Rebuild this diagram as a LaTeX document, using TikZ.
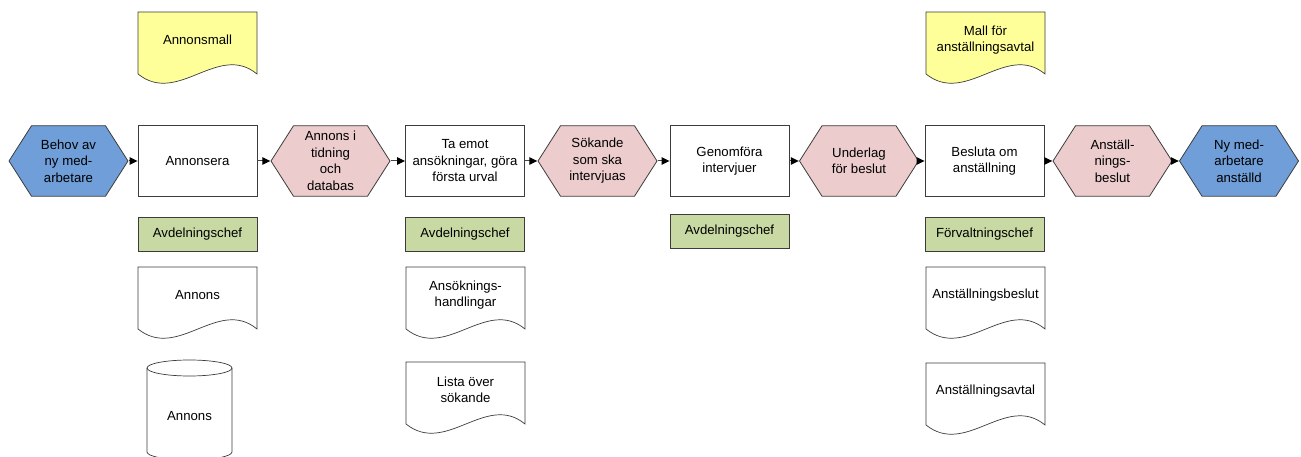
\documentclass[tikz,border=0pt]{standalone}
\usepackage{fontspec}
\setmainfont{Liberation Sans}
\usetikzlibrary{arrows.meta}

\definecolor{eventblue}{RGB}{111,158,216}
\definecolor{eventpink}{RGB}{236,204,204}
\definecolor{docyellow}{RGB}{255,255,153}
\definecolor{rolegreen}{RGB}{200,217,164}
\definecolor{edge}{RGB}{60,60,60}
\definecolor{linec}{RGB}{70,70,70}

% document symbol: straight top and sides, wavy bottom edge
\newcommand{\docitem}[5]{%
  \filldraw[docline, fill=#4] (#2,#3) -- ({#2+119},#3) -- ({#2+119},{#3+62})
    .. controls ({#2+80},{#3+30}) and ({#2+40},{#3+94}) .. (#2,{#3+62}) -- cycle;
  \node[lbl] (#1) at ({#2+59.5},{#3+28}) {#5};}

\begin{document}
\begin{tikzpicture}[x=1pt, y=-1pt,
  lbl/.style={font=\fontsize{13.2}{16.5}\selectfont, align=center, text=black},
  docline/.style={draw=edge, line width=0.7pt},
  stepbox/.style={lbl, draw=edge, line width=0.9pt, fill=white,
    minimum width=119pt, minimum height=70.5pt, inner sep=0pt},
  rolebox/.style={lbl, draw=edge, line width=0.9pt, fill=rolegreen,
    minimum width=119pt, minimum height=34pt, inner sep=0pt},
  hexa/.style={lbl, shape=rectangle, minimum width=120pt, minimum height=71.5pt, inner sep=0pt,
    path picture={\path[fill=#1, draw=edge, line width=0.8pt]
      ([xshift=0.5pt]path picture bounding box.west) --
      ([xshift=23pt,yshift=-0.5pt]path picture bounding box.north west) --
      ([xshift=-23pt,yshift=-0.5pt]path picture bounding box.north east) --
      ([xshift=-0.5pt]path picture bounding box.east) --
      ([xshift=-23pt,yshift=0.5pt]path picture bounding box.south east) --
      ([xshift=23pt,yshift=0.5pt]path picture bounding box.south west) -- cycle;}},
  flow/.style={draw=linec, line width=1pt,
    -{Triangle[length=8pt, width=7.5pt, color=black]}}
]
\useasboundingbox (0,0) rectangle (1301,457);

% main process chain
\node[hexa=eventblue] (need)    at (68.5,161)   {Behov av\\ny med-\\arbetare};
\node[stepbox]        (adv)     at (197.5,161)  {Annonsera};
\node[hexa=eventpink] (adpub)   at (330.5,161)  {Annons i\\tidning\\och\\databas};
\node[stepbox]        (receive) at (465,161)    {Ta emot\\ansökningar, göra\\första urval};
\node[hexa=eventpink] (cands)   at (597.5,161)  {Sökande\\som ska\\intervjuas};
\node[stepbox]        (interv)  at (729.5,161)  {Genomföra\\intervjuer};
\node[hexa=eventpink] (basis)   at (859,161)    {Underlag\\för beslut};
\node[stepbox]        (decide)  at (984.5,161)  {Besluta om\\anställning};
\node[hexa=eventpink] (decis)   at (1112.5,161) {Anställ-\\nings-\\beslut};
\node[hexa=eventblue] (hired)   at (1239,161)   {Ny med-\\arbetare\\anställd};

\draw[flow] (need.east)    -- (adv.west);
\draw[flow] (adv.east)     -- (adpub.west);
\draw[flow] (adpub.east)   -- (receive.west);
\draw[flow] (receive.east) -- (cands.west);
\draw[flow] (cands.east)   -- (interv.west);
\draw[flow] (interv.east)  -- (basis.west);
\draw[flow] (basis.east)   -- (decide.west);
\draw[flow] (decide.east)  -- (decis.west);
\draw[flow] (decis.east)   -- (hired.west);

% responsible roles
\node[rolebox] (role1) at (197.5,234.5) {Avdelningschef};
\node[rolebox] (role2) at (465,234)     {Avdelningschef};
\node[rolebox] (role3) at (729.5,231)   {Avdelningschef};
\node[rolebox] (role4) at (984.5,234)   {Förvaltningschef};

% input templates
\docitem{tmpl1}{138}{12}{docyellow}{Annonsmall}
\docitem{tmpl2}{926}{12}{docyellow}{Mall för\\anställningsavtal}

% output documents
\docitem{out1}{138}{267}{white}{Annons}
\docitem{out2}{406}{267}{white}{Ansöknings-\\handlingar}
\docitem{out3}{406}{362}{white}{Lista över\\sökande}
\docitem{out4}{926}{267}{white}{Anställningsbeslut}
\docitem{out5}{926}{363}{white}{Anställningsavtal}

% database
\filldraw[docline, fill=white] (147,368) -- (147,452)
  arc[start angle=180, end angle=360, x radius=42.5pt, y radius=8pt] -- (232,368)
  arc[start angle=0, end angle=180, x radius=42.5pt, y radius=8pt] -- cycle;
\draw[docline] (232,368) arc[start angle=0, end angle=-180, x radius=42.5pt, y radius=8pt];
\node[lbl] (db) at (189.5,416) {Annons};
\end{tikzpicture}
\end{document}
